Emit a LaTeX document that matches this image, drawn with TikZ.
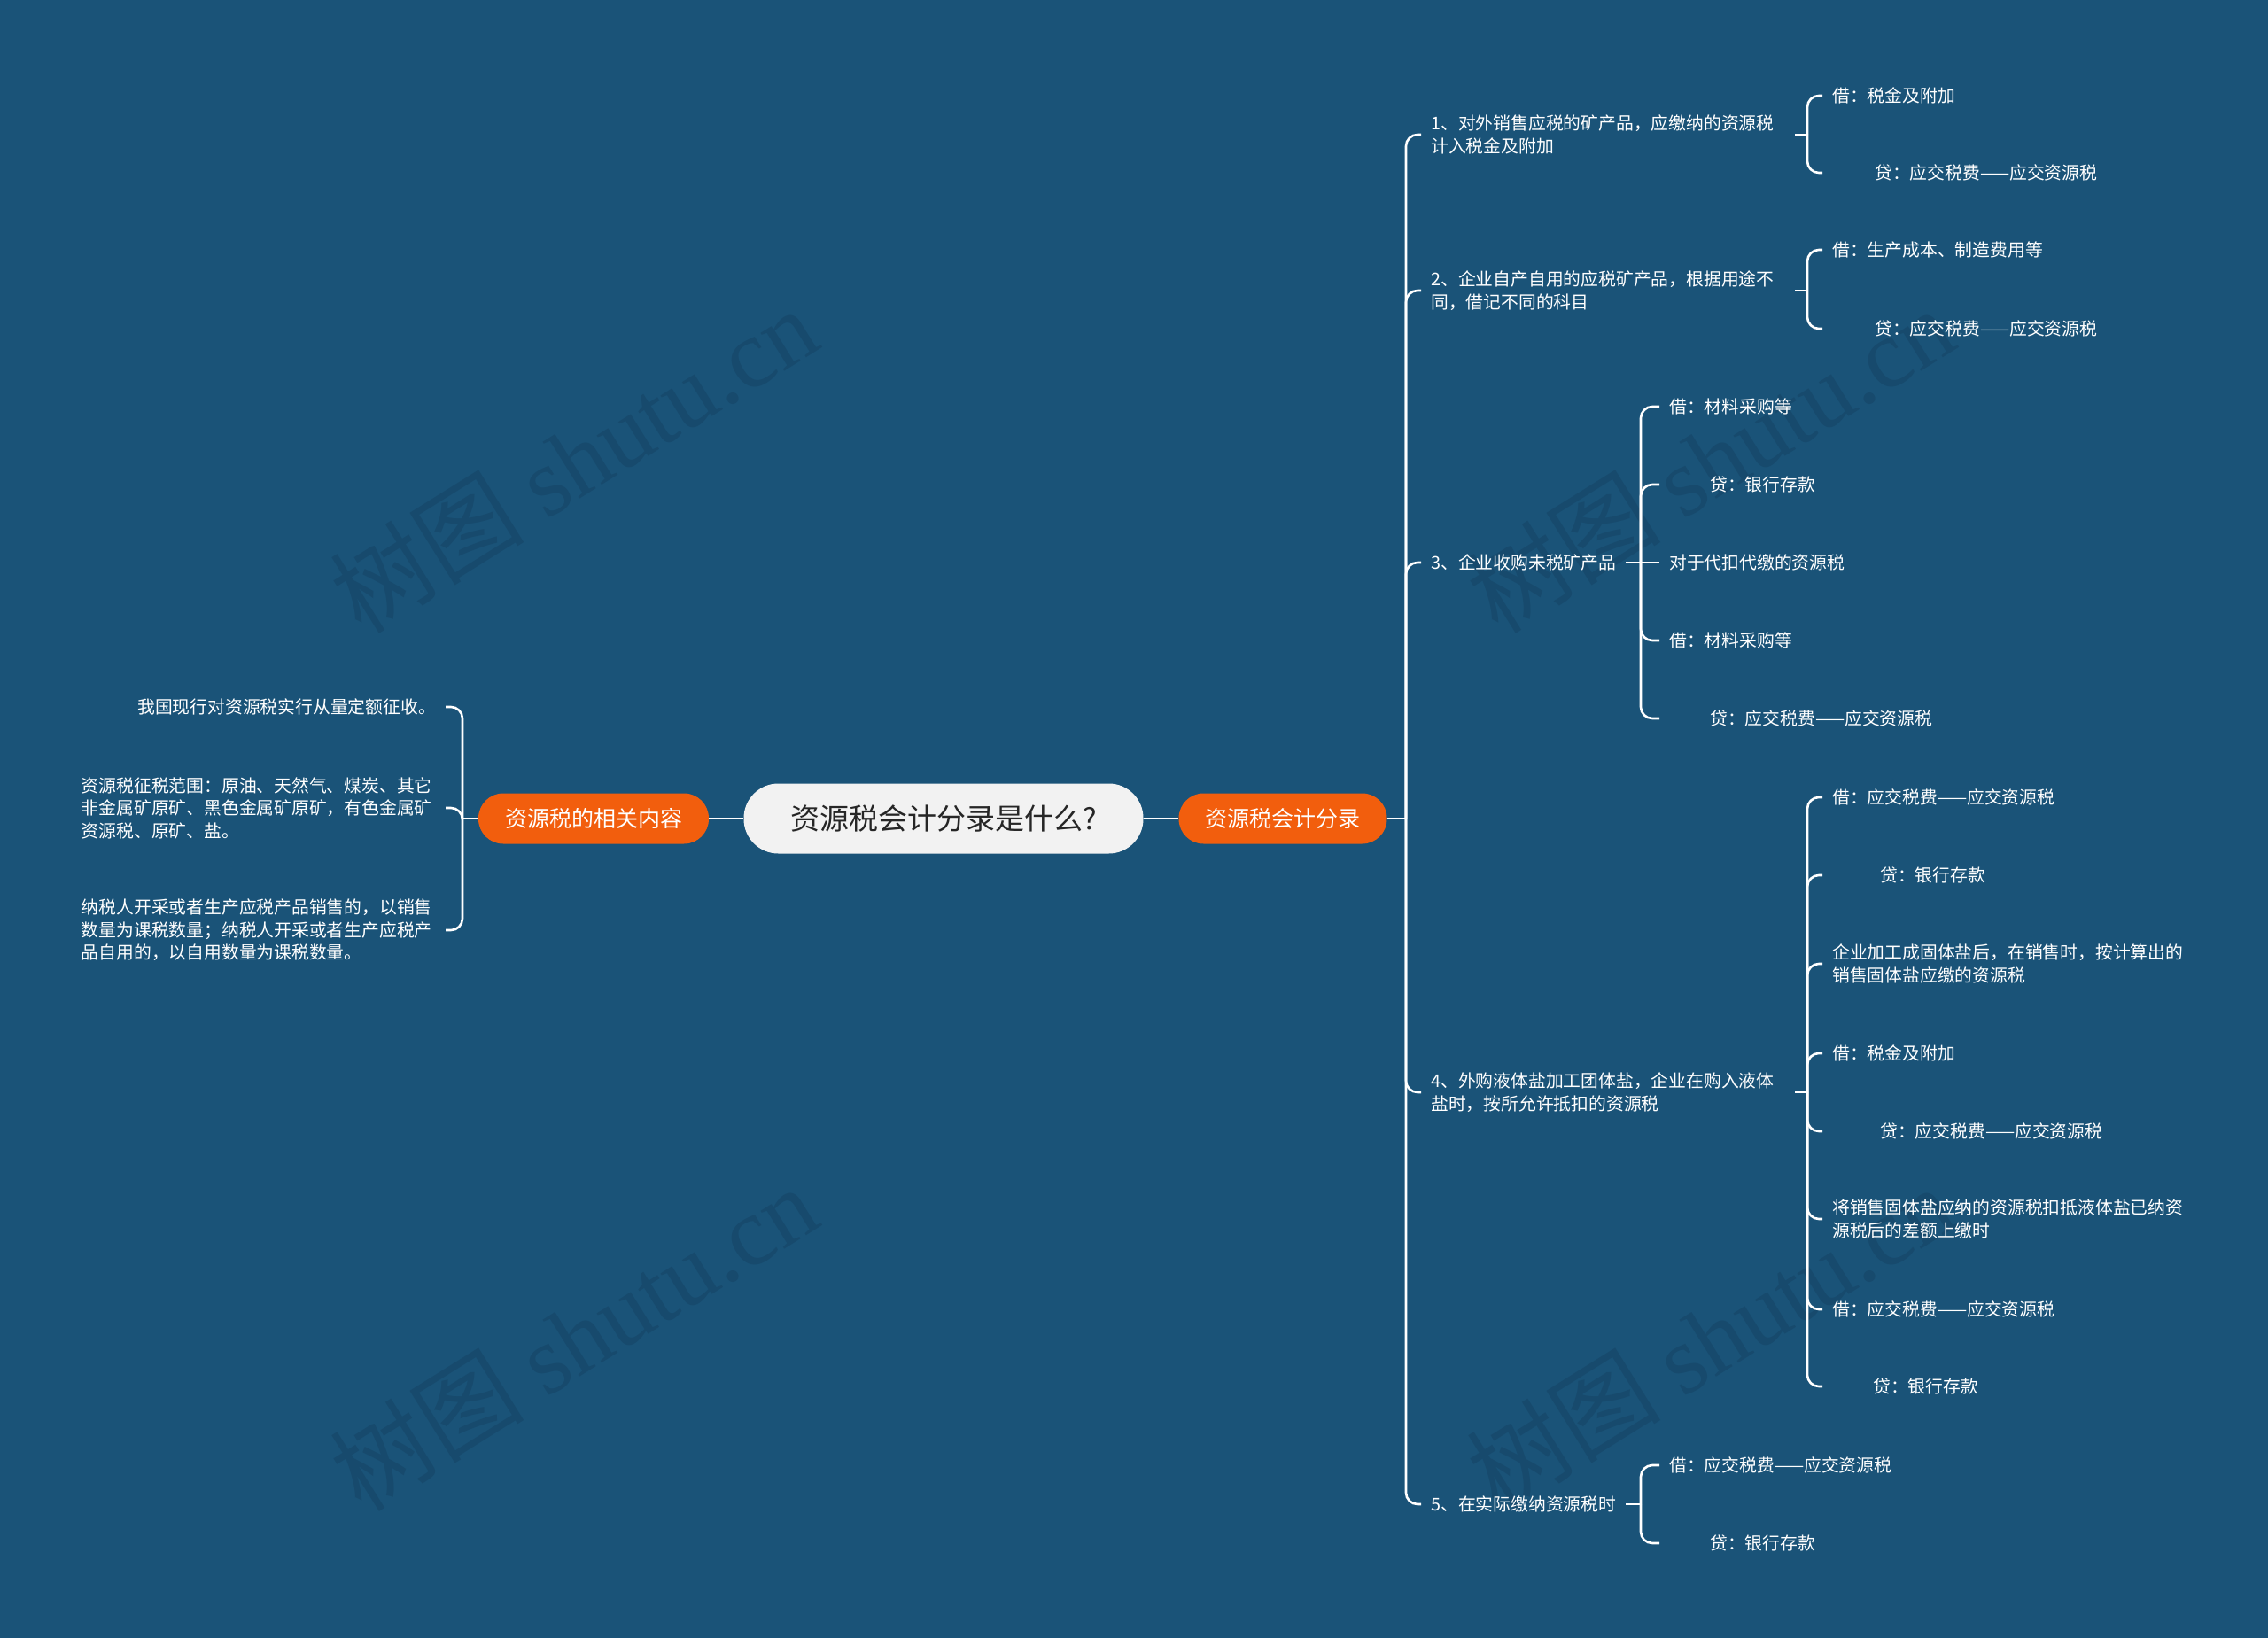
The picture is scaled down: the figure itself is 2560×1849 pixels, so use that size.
\documentclass[tikz,border=0pt]{standalone}
\usepackage{fontspec}
\setmainfont{Noto Sans CJK SC}
\newfontfamily\wmserif{Liberation Serif}
\definecolor{bgblue}{HTML}{1A5378}
\definecolor{wmblue}{HTML}{174A6D}
\definecolor{topicorange}{HTML}{F25E0D}
\definecolor{rootgray}{HTML}{F2F2F2}
\tikzstyle{root} = [rounded corners=39pt, fill=rootgray, text=black!85, minimum width=451pt, minimum height=79pt, font=\fontsize{33pt}{40pt}\selectfont]
\tikzstyle{topic} = [rounded corners=28pt, fill=topicorange, text=white, inner xsep=30pt, minimum height=57pt, font=\fontsize{25pt}{30pt}\selectfont]
\tikzstyle{item} = [text=white, inner xsep=11pt, inner ysep=2pt, align=left, font=\fontsize{19.8pt}{25.5pt}\selectfont]
\tikzstyle{wide} = [text width=400pt]
\tikzstyle{link} = [draw=white, line width=2.6pt, rounded corners=13pt]
\tikzstyle{wmark} = [text=wmblue, rotate=32, font=\fontsize{110pt}{110pt}\selectfont]

\begin{document}
\begin{tikzpicture}[x=1pt, y=-1pt]
    \fill[bgblue] (0,0) rectangle (2560,1849);
    \useasboundingbox (0,0) rectangle (2560,1849);
    \node (wm1) [wmark] at (647,519) {树图 {\wmserif shutu.cn}};
    \node (wm2) [wmark] at (647,1510) {树图 {\wmserif shutu.cn}};
    \node (wm3) [wmark] at (1930,519) {树图 {\wmserif shutu.cn}};
    \node (wm4) [wmark] at (1930,1510) {树图 {\wmserif shutu.cn}};

    \node (root) [root] at (1065,924) {资源税会计分录是什么?};
    \node (rel) [topic] at (670,924) {资源税的相关内容};
    \node (acc) [topic] at (1448,924) {资源税会计分录};

    \node (l1) [item, anchor=east] at (503,798) {我国现行对资源税实行从量定额征收。};
    \node (l2) [item, wide, anchor=east] at (503,912) {资源税征税范围：原油、天然气、煤炭、其它\\非金属矿原矿、黑色金属矿原矿，有色金属矿\\资源税、原矿、盐。};
    \node (l3) [item, wide, anchor=east] at (503,1050) {纳税人开采或者生产应税产品销售的，以销售\\数量为课税数量；纳税人开采或者生产应税产\\品自用的，以自用数量为课税数量。};

    \node (n1) [item, wide, anchor=west] at (1604,152) {1、对外销售应税的矿产品，应缴纳的资源税\\计入税金及附加};
    \node (n2) [item, wide, anchor=west] at (1604,328) {2、企业自产自用的应税矿产品，根据用途不\\同，借记不同的科目};
    \node (n3) [item, anchor=west] at (1604,635) {3、企业收购未税矿产品};
    \node (n4) [item, wide, anchor=west] at (1604,1233) {4、外购液体盐加工团体盐，企业在购入液体\\盐时，按所允许抵扣的资源税};
    \node (n5) [item, anchor=west] at (1604,1698) {5、在实际缴纳资源税时};

    \node (n11) [item, anchor=west] at (2057,108) {借：税金及附加};
    \node (n12) [item, anchor=west] at (2057,195) {\hspace*{48pt}贷：应交税费——应交资源税};
    \node (n21) [item, anchor=west] at (2057,282) {借：生产成本、制造费用等};
    \node (n22) [item, anchor=west] at (2057,371) {\hspace*{48pt}贷：应交税费——应交资源税};

    \node (n31) [item, anchor=west] at (1873,459) {借：材料采购等};
    \node (n32) [item, anchor=west] at (1873,547) {\hspace*{46pt}贷：银行存款};
    \node (n33) [item, anchor=west] at (1873,635) {对于代扣代缴的资源税};
    \node (n34) [item, anchor=west] at (1873,723) {借：材料采购等};
    \node (n35) [item, anchor=west] at (1873,811) {\hspace*{46pt}贷：应交税费——应交资源税};

    \node (n41) [item, anchor=west] at (2057,900) {借：应交税费——应交资源税};
    \node (n42) [item, anchor=west] at (2057,988) {\hspace*{54pt}贷：银行存款};
    \node (n43) [item, wide, anchor=west] at (2057,1088) {企业加工成固体盐后，在销售时，按计算出的\\销售固体盐应缴的资源税};
    \node (n44) [item, anchor=west] at (2057,1189) {借：税金及附加};
    \node (n45) [item, anchor=west] at (2057,1277) {\hspace*{54pt}贷：应交税费——应交资源税};
    \node (n46) [item, wide, anchor=west] at (2057,1376) {将销售固体盐应纳的资源税扣抵液体盐已纳资\\源税后的差额上缴时};
    \node (n47) [item, anchor=west] at (2057,1478) {借：应交税费——应交资源税};
    \node (n48) [item, anchor=west] at (2057,1565) {\hspace*{46pt}贷：银行存款};

    \node (n51) [item, anchor=west] at (1873,1654) {借：应交税费——应交资源税};
    \node (n52) [item, anchor=west] at (1873,1742) {\hspace*{46pt}贷：银行存款};

    \coordinate (jL) at (522,924);
    \coordinate (jR) at (1587,924);
    \coordinate (j1) at (2040,152);
    \coordinate (j2) at (2040,328);
    \coordinate (j3) at (1852,635);
    \coordinate (j4) at (2040,1233);
    \coordinate (j5) at (1852,1698);

    \draw[link] (root.west) -- (rel.east);
    \draw[link] (root.east) -- (acc.west);

    \draw[link] (rel.west) -- (jL);
    \draw[link] (jL) |- (l1.east);
    \draw[link] (jL) |- (l2.east);
    \draw[link] (jL) |- (l3.east);

    \draw[link] (acc.east) -- (jR);
    \draw[link] (jR) |- (n1.west);
    \draw[link] (jR) |- (n2.west);
    \draw[link] (jR) |- (n3.west);
    \draw[link] (jR) |- (n4.west);
    \draw[link] (jR) |- (n5.west);

    \draw[link] (n1.east) -- (j1);
    \draw[link] (j1) |- (n11.west);
    \draw[link] (j1) |- (n12.west);
    \draw[link] (n2.east) -- (j2);
    \draw[link] (j2) |- (n21.west);
    \draw[link] (j2) |- (n22.west);

    \draw[link] (n3.east) -- (j3);
    \draw[link] (j3) |- (n31.west);
    \draw[link] (j3) |- (n32.west);
    \draw[link] (j3) -- (n33.west);
    \draw[link] (j3) |- (n34.west);
    \draw[link] (j3) |- (n35.west);

    \draw[link] (n4.east) -- (j4);
    \draw[link] (j4) |- (n41.west);
    \draw[link] (j4) |- (n42.west);
    \draw[link] (j4) |- (n43.west);
    \draw[link] (j4) |- (n44.west);
    \draw[link] (j4) |- (n45.west);
    \draw[link] (j4) |- (n46.west);
    \draw[link] (j4) |- (n47.west);
    \draw[link] (j4) |- (n48.west);

    \draw[link] (n5.east) -- (j5);
    \draw[link] (j5) |- (n51.west);
    \draw[link] (j5) |- (n52.west);
\end{tikzpicture}
\end{document}
